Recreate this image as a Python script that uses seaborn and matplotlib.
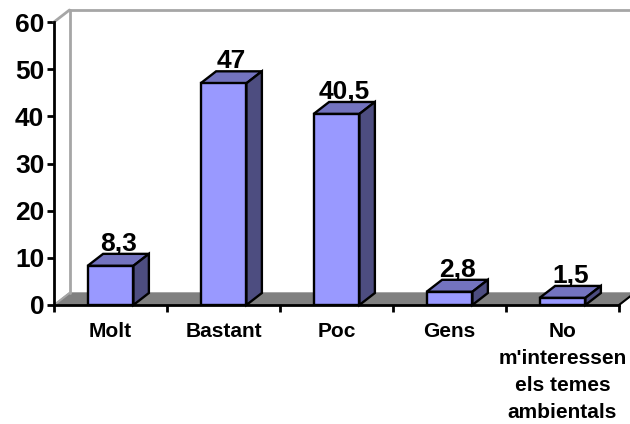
import matplotlib
matplotlib.use("Agg")
import matplotlib.pyplot as plt
from matplotlib.patches import Polygon
from matplotlib.lines import Line2D
import seaborn as sns
import pandas as pd

categories = ["Molt", "Bastant", "Poc", "Gens", "No\nm'interessen\nels temes\nambientals"]
values = [8.3, 47, 40.5, 2.8, 1.5]
value_labels = ["8,3", "47", "40,5", "2,8", "1,5"]
y_ticks = [0, 10, 20, 30, 40, 50, 60]

W, H = 630, 424
sns.set_theme(style="white")
plt.rcParams['font.family'] = ['Liberation Sans', 'DejaVu Sans']
fig = plt.figure(figsize=(W/100, H/100), dpi=100)
L, R, T, B = 54, 619, 22, 305
ax = fig.add_axes([L/W, 1-B/H, (R-L)/W, (B-T)/H])
df = pd.DataFrame({"cat": categories, "val": values})
sns.barplot(data=df, x="cat", y="val", color="#9999FF", saturation=1, width=0.405,
            edgecolor="black", linewidth=1.7, ax=ax, zorder=5)
ax.set_xlim(-0.5, 4.5)
ax.set_ylim(0, 60)
ax.set_xlabel(""); ax.set_ylabel("")
ax.set_yticks(y_ticks)
ax.set_xticks([-0.5, 0.5, 1.5, 2.5, 3.5, 4.5])
ax.set_xticklabels([])
ax.tick_params(axis="both", length=5, width=2, color="black", direction="out", bottom=True, left=True)
ax.tick_params(axis="y", labelsize=19, pad=2)
for t in ax.get_yticklabels():
    t.set_fontweight("bold"); t.set_color("black")
for s in ["top", "right"]:
    ax.spines[s].set_visible(False)
for s in ["left", "bottom"]:
    ax.spines[s].set_color("black"); ax.spines[s].set_linewidth(2); ax.spines[s].set_zorder(6)

# 3-D depth expressed in axis-data units
dx = 15.5 / ((R-L)/5)
dy = 12 / ((B-T)/60)
x0, x1 = -0.5, 4.5
ymax = 60
gray = "#A6A6A6"
kw = dict(clip_on=False)
ax.add_patch(Polygon([(x0, 0), (x0+dx, dy), (x1+dx, dy), (x1, 0)], closed=True, facecolor="#808080",
                     edgecolor="#808080", zorder=1, **kw))
ax.add_line(Line2D([x0+dx, x0+dx], [dy, ymax+dy], color=gray, lw=2, zorder=1, **kw))
ax.add_line(Line2D([x0, x0+dx], [ymax, ymax+dy], color=gray, lw=2, zorder=1, **kw))
ax.add_line(Line2D([x0+dx, x1+dx+1], [ymax+dy, ymax+dy], color=gray, lw=2, zorder=1, **kw))
ax.add_line(Line2D([x0, x0+dx], [0, dy], color=gray, lw=1.5, zorder=2, **kw))
ax.add_line(Line2D([x1, x1+dx], [0, dy], color="black", lw=1.5, zorder=2, **kw))

for bar, lab in zip(ax.patches, value_labels):
    a = bar.get_x(); b = a + bar.get_width(); h = bar.get_height()
    ax.add_patch(Polygon([(a, h), (a+dx, h+dy), (b+dx, h+dy), (b, h)], closed=True,
                         facecolor="#7373BF", edgecolor="black", lw=1.7, zorder=4, **kw))
    ax.add_patch(Polygon([(b, 0), (b+dx, dy), (b+dx, h+dy), (b, h)], closed=True,
                         facecolor="#4D4D80", edgecolor="black", lw=1.7, zorder=4, **kw))
    ax.annotate(lab, ((a+b)/2, h), xytext=(8, 10), textcoords="offset pixels", ha="center", va="bottom",
                fontsize=19, fontweight="bold", color="black", zorder=3, annotation_clip=False)

for i, c in enumerate(categories):
    ax.annotate(c, (i, 0), xytext=(0, -17), textcoords="offset pixels", ha="center", va="top",
                fontsize=15, fontweight="bold", color="black", linespacing=1.53, annotation_clip=False)

fig.savefig("out.png", dpi=100, facecolor="white")
